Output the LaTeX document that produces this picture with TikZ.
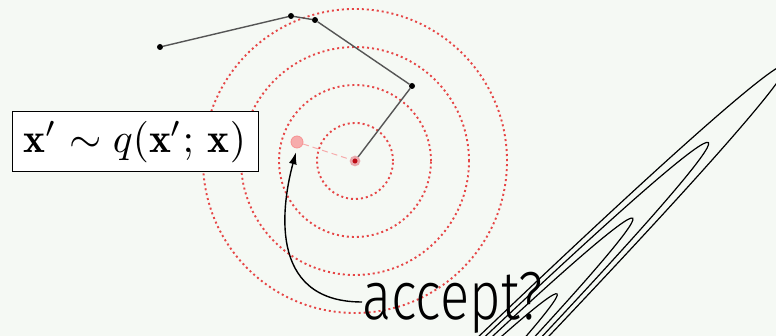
\documentclass[tikz,border=0pt]{standalone}
\usepackage{amsmath}
\usepackage{graphicx}
\usepackage{fontspec}
\newfontfamily\acceptfont[FakeStretch=0.8]{Fira Sans Light}
\usetikzlibrary{arrows.meta,calc}
\definecolor{bgc}{RGB}{245,249,244}
\definecolor{ringred}{RGB}{230,70,70}
\definecolor{propred}{RGB}{246,172,172}
\definecolor{curred}{RGB}{190,10,20}
\definecolor{tracegray}{RGB}{85,85,85}

\begin{document}
\begin{tikzpicture}[x=1pt, y=-1pt,
  ring/.style={draw=ringred, line width=1.9pt, dash pattern=on 2pt off 3pt},
  contour/.style={draw=black, line width=1.2pt},
  dot/.style={circle, fill=black, inner sep=0pt, minimum size=6pt},
  cur/.style={circle, fill=curred, draw=curred!35, line width=2.5pt, inner sep=0pt, minimum size=8pt},
  prop/.style={circle, fill=propred, draw=propred!85!red, line width=0.8pt, inner sep=0pt, minimum size=12pt},
  trace/.style={draw=tracegray, line width=1.4pt},
  arr/.style={-{Latex[length=12pt, width=8pt]}, line width=1.4pt},
  eqbox/.style={draw, fill=white, line width=1pt, minimum width=246pt, minimum height=60pt, inner sep=0pt},
  lbl/.style={inner sep=0pt, font=\acceptfont\fontsize{68}{72}\selectfont}
]
\fill[bgc] (0,0) rectangle (776,336);
\useasboundingbox (0,0) rectangle (776,336);

\coordinate (mode) at (72,779);
\begin{scope}
  \clip (0,0) rectangle (776,336);
  \foreach \a/\b in {686/21, 793/24.5, 900/28, 1010/31.5}
    \draw[contour, rotate around={45:(mode)}] (mode) ellipse (\a pt and \b pt);
\end{scope}

\coordinate (x0) at (355,161);
\foreach \r in {38,76,114,152}
  \draw[ring] (x0) circle (\r pt);

\node[dot] (p0) at (160,47) {};
\node[dot] (p1) at (291,16) {};
\node[dot] (p2) at (315,20) {};
\node[dot] (p3) at (412,86) {};
\node[prop] (xp) at (297,142) {};
\draw[propred, line width=1pt, dash pattern=on 6pt off 4pt] (xp) -- (x0);
\draw[trace] (p0) -- (p1) -- (p2) -- (p3) -- (x0);
\node[cur] (x) at (x0) {};

\node[eqbox] (eq) at (135,142) {\scalebox{4.15}{$\mathbf{x}'\sim q(\mathbf{x}';\,\mathbf{x})$}};

\node[lbl, anchor=base west] (acc) at (362,320) {accept?};
\draw[arr, shorten >=4pt] ([yshift=18pt]acc.base west) .. controls +(-97,0) and +(-14,52) .. (xp.south);
\end{tikzpicture}
\end{document}
